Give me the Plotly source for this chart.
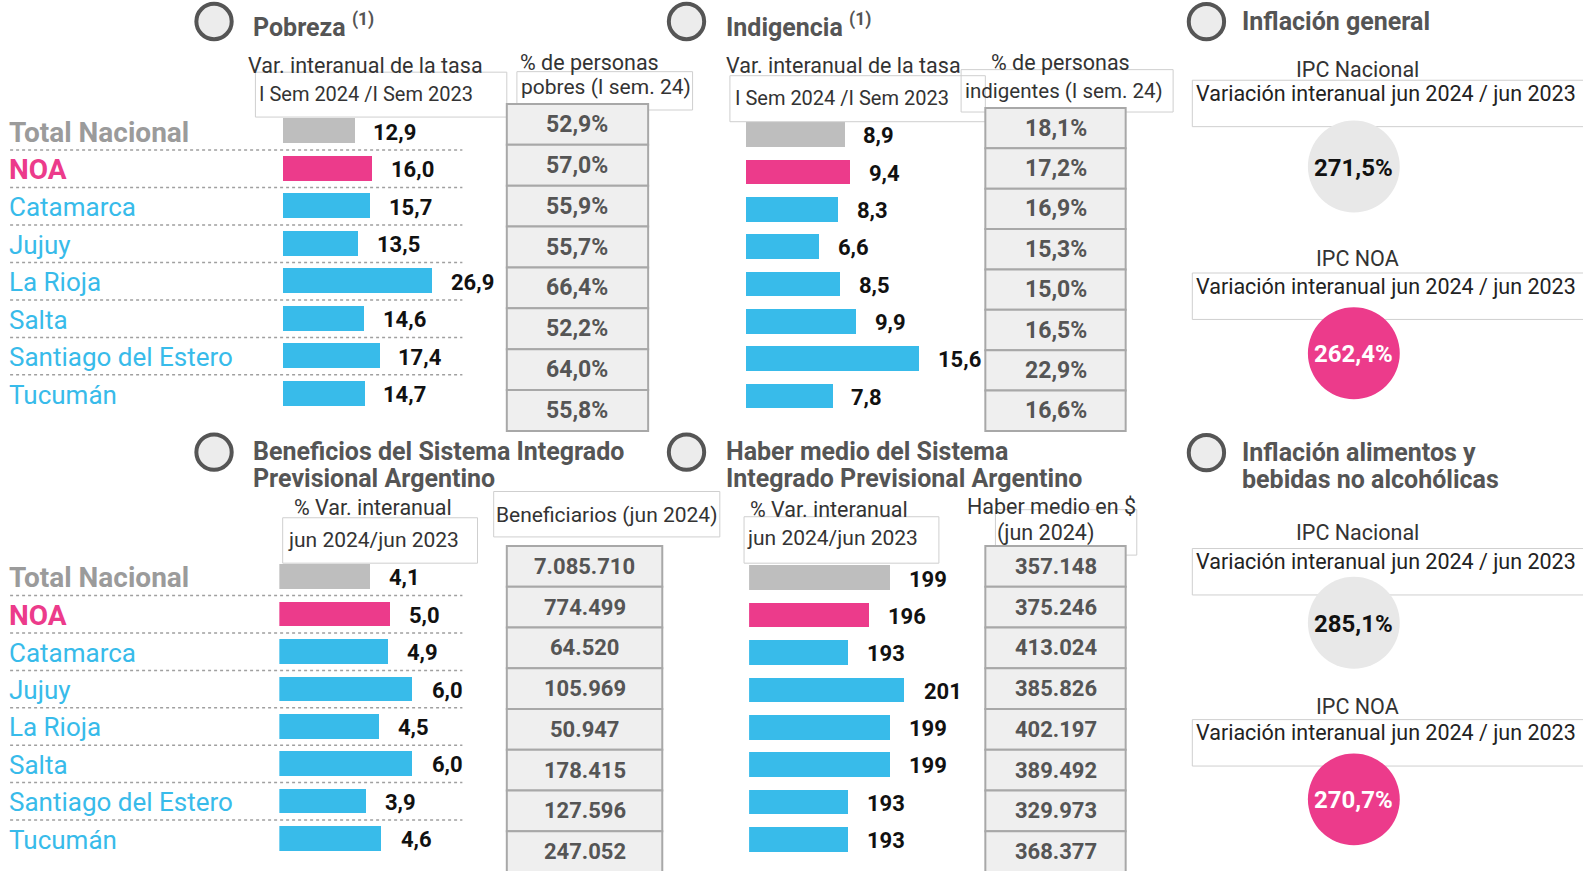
import plotly.graph_objects as go

# ---------------- data ----------------
regions = ["Total Nacional", "NOA", "Catamarca", "Jujuy", "La Rioja", "Salta",
           "Santiago del Estero", "Tucumán"]
pobreza_var = [12.9, 16.0, 15.7, 13.5, 26.9, 14.6, 17.4, 14.7]
pobreza_pct = [52.9, 57.0, 55.9, 55.7, 66.4, 52.2, 64.0, 55.8]
indigencia_var = [8.9, 9.4, 8.3, 6.6, 8.5, 9.9, 15.6, 7.8]
indigencia_pct = [18.1, 17.2, 16.9, 15.3, 15.0, 16.5, 22.9, 16.6]
beneficios_var = [4.1, 5.0, 4.9, 6.0, 4.5, 6.0, 3.9, 4.6]
beneficiarios = [7085710, 774499, 64520, 105969, 50947, 178415, 127596, 247052]
haber_var = [199, 196, 193, 201, 199, 199, 193, 193]
haber_medio = [357148, 375246, 413024, 385826, 402197, 389492, 329973, 368377]
ipc_general = [271.5, 262.4]      # Nacional, NOA
ipc_alimentos = [285.1, 270.7]    # Nacional, NOA

# ---------------- style ----------------
FONT = "Roboto"
GRAY_BAR = "#bebebe"
PINK = "#ec3b8b"
CYAN = "#38bbea"
TITLE_C = "#555555"
TXT_C = "#333333"
TABLE_TXT = "#555555"
bar_colors = [GRAY_BAR, PINK] + [CYAN] * 6
label_colors = ["#9b9b9b", PINK] + [CYAN] * 6

W, H = 1583, 871
RW, RH = 1568, 863               # measurement space


def X(x):
    return x / RW


def Y(y):
    return 1 - y / RH


def dec1(v):
    return f"{v:.1f}".replace(".", ",")


def pct(v):
    return dec1(v) + "%"


def thousands(v):
    return f"{v:,}".replace(",", ".")


def intfmt(v):
    return str(v)


fig = go.Figure()
shapes = []
annotations = []


def text(x, y, t, size=21, color=TXT_C, bold=False, xanchor="left", yanchor="middle"):
    annotations.append(dict(
        x=X(x), y=Y(y), xref="paper", yref="paper", text=t, showarrow=False,
        xanchor=xanchor, yanchor=yanchor,
        font=dict(family=FONT, size=size, color=color, weight="bold" if bold else "normal"),
    ))


def rect(x0, y0, x1, y1, line="#cfcfcf", width=1, fill="rgba(0,0,0,0)"):
    shapes.append(dict(type="rect", xref="paper", yref="paper",
                       x0=X(x0), x1=X(x1), y0=Y(y1), y1=Y(y0),
                       line=dict(color=line, width=width), fillcolor=fill, layer="above"))


def circle(cx, cy, r, fill, line_color=None, line_width=0):
    shapes.append(dict(type="circle", xref="paper", yref="paper",
                       x0=X(cx - r), x1=X(cx + r), y0=Y(cy + r), y1=Y(cy - r),
                       fillcolor=fill,
                       line=dict(color=line_color or fill, width=line_width),
                       layer="above"))


def marker(cx, cy):
    circle(cx, cy, 17.5, "#ececec", "#555555", 4)


def table(x0, x1, top, bottom, texts, size=23):
    n = len(texts)
    h = (bottom - top) / n
    for i, t in enumerate(texts):
        rect(x0, top + i * h, x1, top + (i + 1) * h, line="#a8a8a8", width=2, fill="#efefef")
        text((x0 + x1) / 2, top + (i + 0.5) * h, t, size=size, color=TABLE_TXT,
             bold=True, xanchor="center")


# ---------------- bar panels ----------------
panels = [
    dict(vals=pobreza_var, x0=280, scale=5.5, r=(0, 30), c0=130, c7=390, fmt=dec1, labels=True),
    dict(vals=indigencia_var, x0=738.5, scale=11.0, r=(0, 16), c0=133.7, c7=392.7, fmt=dec1, labels=False),
    dict(vals=beneficios_var, x0=276.7, scale=22.0, r=(0, 7), c0=571.6, c7=831, fmt=dec1, labels=True),
    dict(vals=haber_var, x0=742, scale=7.0, r=(179, 204), c0=572.7, c7=832, fmt=intfmt, labels=False),
]

layout_axes = {}
for k, p in enumerate(panels):
    idx = "" if k == 0 else str(k + 1)
    xa, ya = "x" + idx, "y" + idx
    step = (p["c7"] - p["c0"]) / 7
    top = p["c0"] - step / 2
    bottom = p["c7"] + step / 2
    x1 = p["x0"] + p["scale"] * (p["r"][1] - p["r"][0])
    layout_axes["xaxis" + idx] = dict(domain=[X(p["x0"]), X(x1)], range=list(p["r"]),
                                      visible=False, fixedrange=True, anchor=ya)
    layout_axes["yaxis" + idx] = dict(domain=[Y(bottom), Y(top)], range=[7.5, -0.5],
                                      visible=False, fixedrange=True, anchor=xa)
    fig.add_trace(go.Bar(x=p["vals"], y=list(range(8)), orientation="h",
                         marker=dict(color=bar_colors, line=dict(width=0)),
                         width=0.66, xaxis=xa, yaxis=ya, hoverinfo="skip"))
    for i, v in enumerate(p["vals"]):
        annotations.append(dict(x=v, y=i, xref=xa, yref=ya, text=p["fmt"](v),
                                showarrow=False, xanchor="left", yanchor="middle",
                                xshift=17, yshift=-1,
                                font=dict(family=FONT, size=22, color="#111111", weight="bold")))
    if p["labels"]:
        for i, name in enumerate(regions):
            annotations.append(dict(x=X(7), y=i, xref="paper", yref=ya, text=name,
                                    showarrow=False, xanchor="left", yanchor="middle",
                                    yshift=-1,
                                    font=dict(family=FONT, size=28 if i < 2 else 26,
                                              color=label_colors[i],
                                              weight="bold" if i < 2 else "normal")))
        for i in range(7):
            shapes.append(dict(type="line", xref="paper", yref=ya,
                               x0=X(10), x1=X(458), y0=i + 0.5, y1=i + 0.5,
                               line=dict(color="#a0a0a0", width=1.5, dash="dot")))

# ---------------- Pobreza header ----------------
marker(212, 21.3)
text(249, 25, "Pobreza <sup>(1)</sup>", size=25, color=TITLE_C, bold=True)
rect(253, 71.5, 502, 116)
rect(512, 71, 686, 109)
text(243.5, 64.5, "Var. interanual de la tasa", size=21.5)
text(255, 93, "I Sem 2024 /I Sem 2023", size=20)
text(584, 62, "% de personas", size=21.5, xanchor="center")
text(600, 86, "pobres (I sem. 24)", size=21, xanchor="center")
table(502, 642, 103, 427, [pct(v) for v in pobreza_pct])

# ---------------- Indigencia header ----------------
marker(680, 21.3)
text(717, 25, "Indigencia <sup>(1)</sup>", size=25, color=TITLE_C, bold=True)
rect(723, 75, 976, 120.6)
rect(952, 69, 1162, 111)
text(717, 65, "Var. interanual de la tasa", size=21.5)
text(726, 97, "I Sem 2024 /I Sem 2023", size=20)
text(1050, 62, "% de personas", size=21.5, xanchor="center")
text(1054, 90, "indigentes (I sem. 24)", size=20.5, xanchor="center")
table(976, 1115, 107, 427, [pct(v) for v in indigencia_pct])

# ---------------- Beneficios header ----------------
marker(212, 448)
text(249, 447, "Beneficios del Sistema Integrado", size=25, color=TITLE_C, bold=True)
text(249, 474, "Previsional Argentino", size=25, color=TITLE_C, bold=True)
rect(280, 513, 473, 558)
rect(489, 487, 713, 532)
text(369, 503, "% Var. interanual", size=21.5, xanchor="center")
text(283, 535, "jun 2024/jun 2023", size=21)
text(601, 510, "Beneficiarios (jun 2024)", size=21, xanchor="center")
table(502, 656, 541, 864, [thousands(v) for v in beneficiarios], size=22)

# ---------------- Haber medio header ----------------
marker(680, 448)
text(717, 447, "Haber medio del Sistema", size=25, color=TITLE_C, bold=True)
text(717, 474, "Integrado Previsional Argentino", size=25, color=TITLE_C, bold=True)
rect(737, 512, 930, 558)
rect(986, 505, 1126, 550)
text(741, 505, "% Var. interanual", size=21.5)
text(738, 533, "jun 2024/jun 2023", size=21)
text(1042, 502, "Haber medio en $", size=21.5, xanchor="center")
text(1036, 528, "(jun 2024)", size=21.5, xanchor="center")
table(976, 1115, 541, 864, [thousands(v) for v in haber_medio], size=22)


# ---------------- Inflación panels ----------------
def inflacion(title_lines, y_title, vals, y_lab1, y_box1, y_circ1, y_lab2, y_box2, y_circ2):
    marker(1195, y_title + 0.5)
    for j, tl in enumerate(title_lines):
        text(1228, y_title + j * 27, tl, size=25, color=TITLE_C, bold=True)
    for lab, yl, yb, yc, v, fill, tc in [
        ("IPC Nacional", y_lab1, y_box1, y_circ1, vals[0], "#e8e8e8", "#111111"),
        ("IPC NOA", y_lab2, y_box2, y_circ2, vals[1], PINK, "#ffffff"),
    ]:
        text(1345, yl, lab, size=21.5, xanchor="center")
        rect(1181, yb, 1600, yb + 46)
        text(1183, yb + 13, "Variación interanual jun 2024 / jun 2023", size=21.5, color="#222222")
        circle(1341, yc, 45.5, fill)
        text(1341, yc + 1, pct(v), size=24, color=tc, bold=True, xanchor="center")


inflacion(["Inflación general"], 21, ipc_general, 69, 79.5, 165, 256, 270.5, 350)
inflacion(["Inflación alimentos y", "bebidas no alcohólicas"], 448, ipc_alimentos,
          528, 543.5, 617, 700, 713, 792)

fig.update_layout(
    width=W, height=H, margin=dict(l=0, r=0, t=0, b=0),
    paper_bgcolor="white", plot_bgcolor="rgba(0,0,0,0)",
    showlegend=False, shapes=shapes, annotations=annotations,
    bargap=0, **layout_axes,
)
fig.write_html("out.html", config={"displayModeBar": False},
               post_script="document.body.style.margin='0';document.body.style.overflow='hidden';")
